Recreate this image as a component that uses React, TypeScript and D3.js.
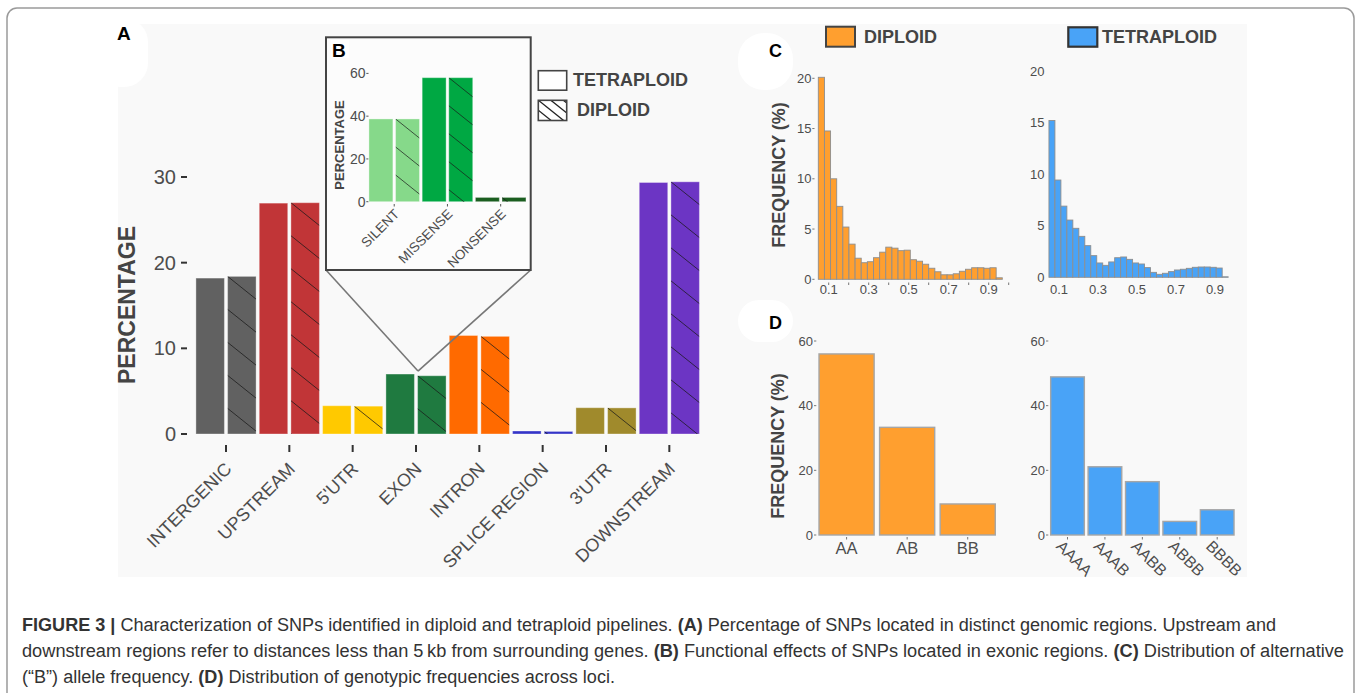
import React from "react";
import * as d3 from "d3";

// ---------- DATA ----------
const regionCategories = ["INTERGENIC", "UPSTREAM", "5'UTR", "EXON", "INTRON", "SPLICE REGION", "3'UTR", "DOWNSTREAM"];
const regionTetraploid = [18.2, 26.95, 3.3, 7.0, 11.5, 0.35, 3.07, 29.36];
const regionDiploid = [18.4, 27.0, 3.25, 6.8, 11.4, 0.3, 3.05, 29.44];
const regionColors = ["#616161", "#c13537", "#ffc900", "#1f7a40", "#ff6a00", "#3535c8", "#a08a2c", "#6c35c4"];
const regionTicks = [0, 10, 20, 30];

const effectCategories = ["SILENT", "MISSENSE", "NONSENSE"];
const effectTetraploid = [38.7, 58.0, 2.0];
const effectDiploid = [38.7, 58.0, 2.0];
const effectColors = ["#86d98a", "#00a843", "#1b5e20"];
const effectTicks = [0, 20, 40, 60];

const afDiploid = [20.1, 14.76, 10.0, 7.26, 5.2, 3.5, 2.1, 1.65, 1.75, 2.15, 2.7, 3.2, 3.1, 2.85, 2.9, 1.95, 1.8, 1.5, 1.1, 0.75, 0.45, 0.45, 0.55, 0.8, 1.0, 1.15, 1.15, 1.1, 1.15, 0.15];
const afTetraploid = [15.2, 9.43, 6.9, 5.55, 4.75, 3.97, 3.07, 2.1, 1.39, 1.16, 1.49, 1.9, 1.97, 1.74, 1.39, 1.29, 0.94, 0.48, 0.29, 0.39, 0.55, 0.71, 0.78, 0.87, 0.97, 1.0, 1.0, 0.97, 0.9, 0.05];
const afBinLow = 0.048;
const afBinHigh = 0.968;
const afYTicks = [0, 5, 10, 15, 20];
const afXTicks = [0.1, 0.2, 0.3, 0.4, 0.5, 0.6, 0.7, 0.8, 0.9, 1.0];
const afXLabels = [0.1, 0.3, 0.5, 0.7, 0.9];

const genoDiploidCats = ["AA", "AB", "BB"];
const genoDiploid = [56.0, 33.3, 9.6];
const genoTetraploidCats = ["AAAA", "AAAB", "AABB", "ABBB", "BBBB"];
const genoTetraploid = [48.9, 21.1, 16.5, 4.2, 7.8];
const genoTicks = [0, 20, 40, 60];

const ORANGE = "#ff9f2f";
const BLUE = "#49a3f7";

const FONT = "'Liberation Sans', Arial, Helvetica, sans-serif";
const NARROW = "'Liberation Sans Narrow', 'Liberation Sans', Arial, sans-serif";
const TICK_COL = "#4d4d4d";

function hatch(x: number, y: number, w: number, h: number, spacing: number, slope: number, kFrom = 0) {
  const out: number[][] = [];
  for (let k = kFrom; y + k * spacing < y + h; k++) {
    const y0 = y + k * spacing;
    out.push([x, y0, x + w, y0 + slope * w]);
  }
  return out;
}

export default function App() {
  // ---- Panel A scales
  const yA = d3.scaleLinear().domain([0, 30]).range([434, 177]);
  const xA = d3.scaleBand<string>().domain(regionCategories).range([194.33, 701]);
  const xASub = d3.scaleBand<string>().domain(["T", "D"]).range([0, xA.bandwidth()]).paddingInner(0.1).paddingOuter(0.05);

  // ---- Panel B scales
  const yB = d3.scaleLinear().domain([0, 60]).range([201.7, 73.4]);
  const xB = d3.scaleBand<string>().domain(effectCategories).range([367.6, 527.3]);
  const xBSub = d3.scaleBand<string>().domain(["T", "D"]).range([0, xB.bandwidth()]).paddingInner(0.1).paddingOuter(0.05);

  // ---- Panel C scales
  const xCd = d3.scaleLinear().domain([0, 1]).range([808.7, 1008.7]);
  const yCd = d3.scaleLinear().domain([0, 20]).range([279.3, 78.3]);
  const xCt = d3.scaleLinear().domain([0, 1]).range([1039.6, 1234.4]);
  const yCt = d3.scaleLinear().domain([0, 20]).range([277.3, 71]);
  const binW = (afBinHigh - afBinLow) / afDiploid.length;

  // ---- Panel D scales
  const yDd = d3.scaleLinear().domain([0, 60]).range([535, 341]);
  const xDd = d3.scaleBand<string>().domain(genoDiploidCats).range([816.3, 998]).paddingInner(0.09).paddingOuter(0.045);
  const yDt = d3.scaleLinear().domain([0, 60]).range([535, 341]);
  const xDt = d3.scaleBand<string>().domain(genoTetraploidCats).range([1048.8, 1235.9]).paddingInner(0.1).paddingOuter(0.05);

  const clips: React.ReactNode[] = [];
  const hatchGroups: React.ReactNode[] = [];

  // Panel A bars
  const barsA: React.ReactNode[] = [];
  regionCategories.forEach((c, i) => {
    const gx = xA(c)!;
    const vals = [regionTetraploid[i], regionDiploid[i]];
    ["T", "D"].forEach((s, j) => {
      const bx = gx + xASub(s)!;
      const bw = xASub.bandwidth();
      const by = yA(vals[j]);
      const bh = yA(0) - by;
      barsA.push(
        <rect key={`a-${i}-${s}`} x={bx} y={by} width={bw} height={Math.max(bh, 0.5)} fill={regionColors[i]} stroke="rgba(255,255,255,0.35)" strokeWidth={1} />
      );
      if (s === "D") {
        const id = `clipA${i}`;
        clips.push(
          <clipPath id={id} key={id}>
            <rect x={bx} y={by} width={bw} height={Math.max(bh, 0.5)} />
          </clipPath>
        );
        hatchGroups.push(
          <g key={`ha${i}`} clipPath={`url(#${id})`}>
            {hatch(bx, by, bw, Math.max(bh, 2), 33, 0.8).map((l, k) => (
              <line key={k} x1={l[0]} y1={l[1]} x2={l[2]} y2={l[3]} stroke="#1a1a1a" strokeOpacity={0.75} strokeWidth={1} />
            ))}
          </g>
        );
      }
    });
  });

  // Panel B bars
  const barsB: React.ReactNode[] = [];
  effectCategories.forEach((c, i) => {
    const gx = xB(c)!;
    const vals = [effectTetraploid[i], effectDiploid[i]];
    ["T", "D"].forEach((s, j) => {
      const bx = gx + xBSub(s)!;
      const bw = xBSub.bandwidth();
      const by = yB(vals[j]);
      const bh = yB(0) - by;
      barsB.push(
        <rect key={`b-${i}-${s}`} x={bx} y={by} width={bw} height={bh} fill={effectColors[i]} stroke="rgba(255,255,255,0.35)" strokeWidth={1} />
      );
      if (s === "D") {
        const id = `clipB${i}`;
        clips.push(
          <clipPath id={id} key={id}>
            <rect x={bx} y={by} width={bw} height={bh} />
          </clipPath>
        );
        hatchGroups.push(
          <g key={`hb${i}`} clipPath={`url(#${id})`}>
            {hatch(bx, by, bw, Math.max(bh, 2), 28, 0.8).map((l, k) => (
              <line key={k} x1={l[0]} y1={l[1]} x2={l[2]} y2={l[3]} stroke="#1a1a1a" strokeOpacity={0.7} strokeWidth={1} />
            ))}
          </g>
        );
      }
    });
  });

  const exonCenter = xA("EXON")! + xA.bandwidth() / 2 + 2;
  const exonTop = yA(Math.max(regionTetraploid[3], regionDiploid[3])) - 3;

  // legend hatch
  const legHatch = hatch(538, 100, 28.5, 20.5, 10, 0.8, -3);

  const captionColor = "#333";

  return (
    <svg width={1362} height={693} style={{ position: "absolute", left: 0, top: 0, background: "#fff" }} fontFamily={FONT}>
      <defs>
        {clips}
        <clipPath id="legClip">
          <rect x={538} y={100} width={28.5} height={20.5} />
        </clipPath>
      </defs>

      {/* outer frame */}
      <rect x={7} y={8} width={1347} height={730} rx={10} fill="none" stroke="#9a9a9a" strokeWidth={1.5} />

      {/* figure background */}
      <rect x={118} y={24} width={1129} height={553} fill="#f9f9f9" />
      {/* white blobs behind labels */}
      <rect x={96} y={18} width={52} height={69} rx={24} fill="#fff" />
      <rect x={738} y={33} width={55} height={57} rx={26} fill="#fff" />
      <rect x={738} y={300} width={55} height={42} rx={21} fill="#fff" />

      {/* ---------- Panel A ---------- */}
      <text x={117} y={40} fontSize={19} fontWeight="bold" fill="#000">A</text>
      <text transform={`translate(135,305) rotate(-90)`} textAnchor="middle" fontSize={23} fontWeight="bold" fill="#444">PERCENTAGE</text>
      {regionTicks.map((t) => (
        <g key={`ya${t}`}>
          <text x={176} y={yA(t)} dy="0.35em" textAnchor="end" fontSize={20} fill={TICK_COL}>{t}</text>
          <line x1={181} x2={187} y1={yA(t)} y2={yA(t)} stroke="#333" strokeWidth={2} />
        </g>
      ))}
      {barsA}
      {hatchGroups.slice(0, 8)}
      {regionCategories.map((c) => {
        const cx = xA(c)! + xA.bandwidth() / 2;
        return (
          <g key={`xa${c}`}>
            <line x1={cx} x2={cx} y1={445} y2={452} stroke="#333" strokeWidth={2} />
            <text transform={`translate(${cx - 2.5},461) rotate(-45)`} dy="0.72em" textAnchor="end" fontSize={18} fill={TICK_COL}>{c}</text>
          </g>
        );
      })}

      {/* zoom lines */}
      <line x1={326} y1={270} x2={exonCenter} y2={exonTop} stroke="#777" strokeWidth={1.6} />
      <line x1={530.7} y1={270} x2={exonCenter} y2={exonTop} stroke="#777" strokeWidth={1.6} />

      {/* ---------- Panel B inset ---------- */}
      <rect x={326} y={37.3} width={204.7} height={232.7} fill="#fcfcfc" stroke="#444" strokeWidth={2} />
      <rect x={331} y={40} width={18} height={18} fill="#fff" />
      <text x={332} y={57} fontSize={19} fontWeight="bold" fill="#000">B</text>
      <text transform={`translate(344,145) rotate(-90)`} textAnchor="middle" fontSize={13} fontWeight="bold" fill="#444">PERCENTAGE</text>
      {effectTicks.map((t) => (
        <g key={`yb${t}`}>
          <text x={365.5} y={yB(t)} dy="0.35em" textAnchor="end" fontSize={14} fill={TICK_COL}>{t}</text>
          <line x1={366.3} x2={368.5} y1={yB(t)} y2={yB(t)} stroke="#555" strokeWidth={1} />
        </g>
      ))}
      {barsB}
      {hatchGroups.slice(8)}
      {effectCategories.map((c) => {
        const cx = xB(c)! + xB.bandwidth() / 2;
        return (
          <g key={`xb${c}`}>
            <line x1={cx} x2={cx} y1={204} y2={206.5} stroke="#555" strokeWidth={1} />
            <text transform={`translate(${cx - 1},208) rotate(-45)`} dy="0.72em" textAnchor="end" fontSize={13.5} fill={TICK_COL}>{c}</text>
          </g>
        );
      })}

      {/* Legend A */}
      <rect x={538.3} y={70.7} width={28.4} height={19.5} fill="#fff" stroke="#444" strokeWidth={1.6} />
      <text x={573} y={86} fontSize={18} fontWeight="bold" fill="#444">TETRAPLOID</text>
      <rect x={538.3} y={100.3} width={28.4} height={20.2} fill="#fff" />
      <g clipPath="url(#legClip)">
        {legHatch.map((l, k) => (
          <line key={k} x1={l[0]} y1={l[1]} x2={l[2]} y2={l[3]} stroke="#222" strokeWidth={1.3} />
        ))}
      </g>
      <rect x={538.3} y={100.3} width={28.4} height={20.2} fill="none" stroke="#444" strokeWidth={1.6} />
      <text x={577} y={116} fontSize={18} fontWeight="bold" fill="#444">DIPLOID</text>

      {/* ---------- Panel C ---------- */}
      <text x={769} y={57} fontSize={18} fontWeight="bold" fill="#000">C</text>
      <rect x={826} y={26.7} width={29} height={20} fill={ORANGE} stroke="#444" strokeWidth={2} />
      <text x={864} y={43} fontSize={18} fontWeight="bold" fill="#444">DIPLOID</text>
      <rect x={1068.3} y={27.3} width={29} height={19.4} fill={BLUE} stroke="#333" strokeWidth={2.2} />
      <text x={1102} y={43} fontSize={18} fontWeight="bold" fill="#444">TETRAPLOID</text>

      <text transform={`translate(785,175) rotate(-90)`} textAnchor="middle" fontSize={18} fontWeight="bold" fill="#444">FREQUENCY (%)</text>
      {afYTicks.map((t) => (
        <g key={`ycd${t}`}>
          <text x={811.5} y={yCd(t)} dy="0.35em" textAnchor="end" fontSize={13} fill={TICK_COL}>{t}</text>
          <line x1={812.3} x2={814.5} y1={yCd(t)} y2={yCd(t)} stroke="#777" strokeWidth={1} />
        </g>
      ))}
      {afDiploid.map((v, i) => {
        const x0 = xCd(afBinLow + i * binW);
        const x1 = xCd(afBinLow + (i + 1) * binW);
        return <rect key={`cd${i}`} x={x0} y={yCd(v)} width={x1 - x0} height={yCd(0) - yCd(v)} fill={ORANGE} stroke="#8e8e8e" strokeWidth={0.9} />;
      })}
      {afXTicks.map((t) => (
        <line key={`xcdt${t}`} x1={xCd(t)} x2={xCd(t)} y1={282.5} y2={285} stroke="#777" strokeWidth={1} />
      ))}
      {afXLabels.map((t) => (
        <text key={`xcd${t}`} x={xCd(t)} y={293.5} textAnchor="middle" fontSize={13} fill={TICK_COL}>{t.toFixed(1)}</text>
      ))}

      {afYTicks.map((t) => (
        <text key={`yct${t}`} x={1044.5} y={yCt(t)} dy="0.35em" textAnchor="end" fontSize={13} fill={TICK_COL}>{t}</text>
      ))}
      {afTetraploid.map((v, i) => {
        const x0 = xCt(afBinLow + i * binW);
        const x1 = xCt(afBinLow + (i + 1) * binW);
        return <rect key={`ct${i}`} x={x0} y={yCt(v)} width={x1 - x0} height={Math.max(yCt(0) - yCt(v), 0.5)} fill={BLUE} stroke="#8e8e8e" strokeWidth={0.9} />;
      })}
      {afXLabels.map((t) => (
        <text key={`xct${t}`} x={xCt(t)} y={294} textAnchor="middle" fontSize={13} fill={TICK_COL}>{t.toFixed(1)}</text>
      ))}

      {/* ---------- Panel D ---------- */}
      <text x={769} y={329} fontSize={18} fontWeight="bold" fill="#000">D</text>
      <text transform={`translate(784,446) rotate(-90)`} textAnchor="middle" fontSize={18} fontWeight="bold" fill="#444">FREQUENCY (%)</text>
      {genoTicks.map((t) => (
        <g key={`ydd${t}`}>
          <text x={813} y={yDd(t)} dy="0.35em" textAnchor="end" fontSize={13} fill={TICK_COL}>{t}</text>
          <line x1={814} x2={816.3} y1={yDd(t)} y2={yDd(t)} stroke="#777" strokeWidth={1} />
        </g>
      ))}
      {genoDiploidCats.map((c, i) => (
        <rect key={`dd${c}`} x={xDd(c)} y={yDd(genoDiploid[i])} width={xDd.bandwidth()} height={yDd(0) - yDd(genoDiploid[i])} fill={ORANGE} stroke="#a6a6a6" strokeWidth={1.4} />
      ))}
      {genoDiploidCats.map((c) => {
        const cx = xDd(c)! + xDd.bandwidth() / 2;
        return (
          <g key={`xdd${c}`}>
            <line x1={cx} x2={cx} y1={537} y2={539.5} stroke="#777" strokeWidth={1} />
            <text x={cx} y={554} textAnchor="middle" fontSize={16.5} fill={TICK_COL}>{c}</text>
          </g>
        );
      })}

      {genoTicks.map((t) => (
        <g key={`ydt${t}`}>
          <text x={1045} y={yDt(t)} dy="0.35em" textAnchor="end" fontSize={13} fill={TICK_COL}>{t}</text>
          <line x1={1046} x2={1048.3} y1={yDt(t)} y2={yDt(t)} stroke="#777" strokeWidth={1} />
        </g>
      ))}
      {genoTetraploidCats.map((c, i) => (
        <rect key={`dt${c}`} x={xDt(c)} y={yDt(genoTetraploid[i])} width={xDt.bandwidth()} height={yDt(0) - yDt(genoTetraploid[i])} fill={BLUE} stroke="#a6a6a6" strokeWidth={1.4} />
      ))}
      {genoTetraploidCats.map((c) => {
        const cx = xDt(c)! + xDt.bandwidth() / 2;
        return (
          <g key={`xdt${c}`}>
            <line x1={cx} x2={cx} y1={537} y2={539.5} stroke="#777" strokeWidth={1} />
            <text transform={`translate(${cx - 4},539) rotate(45)`} dy="0.72em" textAnchor="start" fontSize={16} fill={TICK_COL}>{c}</text>
          </g>
        );
      })}

      {/* ---------- Caption ---------- */}
      <g fontFamily={NARROW} fontSize={18} fill={captionColor}>
        <text x={22} y={631} textLength={1254} lengthAdjust="spacingAndGlyphs">
          <tspan fontWeight="bold">{"FIGURE 3 |"}</tspan>
          {" Characterization of SNPs identified in diploid and tetraploid pipelines. "}
          <tspan fontWeight="bold">{"(A)"}</tspan>
          {" Percentage of SNPs located in distinct genomic regions. Upstream and"}
        </text>
        <text x={22} y={657} textLength={1322} lengthAdjust="spacingAndGlyphs">
          {"downstream regions refer to distances less than 5\u2009kb from surrounding genes. "}
          <tspan fontWeight="bold">{"(B)"}</tspan>
          {" Functional effects of SNPs located in exonic regions. "}
          <tspan fontWeight="bold">{"(C)"}</tspan>
          {" Distribution of alternative"}
        </text>
        <text x={22} y={683} textLength={593} lengthAdjust="spacingAndGlyphs">
          {"(\u201CB\u201D) allele frequency. "}
          <tspan fontWeight="bold">{"(D)"}</tspan>
          {" Distribution of genotypic frequencies across loci."}
        </text>
      </g>
    </svg>
  );
}
